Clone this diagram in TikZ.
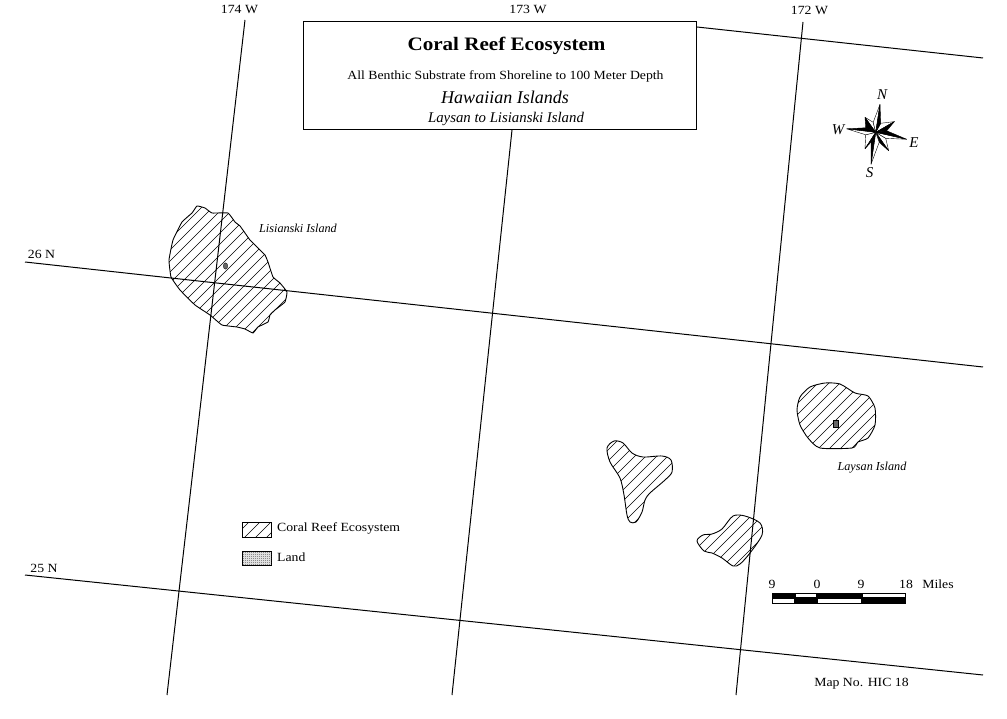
\documentclass[tikz,border=0pt]{standalone}
\usepackage{fontspec}
\setmainfont{Liberation Serif}
\newfontfamily\widef[FakeStretch=1.1]{Liberation Serif}
\newfontfamily\widet[FakeStretch=1.11]{Liberation Serif}
\tikzset{
  grat/.style={line width=1pt,black},
  lab/.style={inner sep=0pt,font=\widef\fontsize{12.5}{13}\selectfont},
  ilab/.style={inner sep=0pt,font=\fontsize{12.2}{13}\selectfont\itshape},
  clab/.style={inner sep=0pt,font=\fontsize{15}{16}\selectfont\itshape},
  coast/.style={line width=0.9pt,black},
  hatch/.style={line width=0.6pt,black},
  bk/.style={fill=black,draw=black,line width=0.4pt,line join=round},
  wh/.style={fill=white,draw=black,line width=0.4pt,line join=round},
}
\begin{document}
\begin{tikzpicture}[x=1pt,y=-1pt]
\useasboundingbox[fill=white] (0,0) rectangle (1007,719);
% graticule
\coordinate (w174a) at (245,20); \coordinate (w174b) at (167,695);
\coordinate (w173a) at (512,130); \coordinate (w173b) at (452,695);
\coordinate (w172a) at (803,22); \coordinate (w172b) at (736,695);
\coordinate (n26a) at (25,262); \coordinate (n26b) at (983,367);
\coordinate (n25a) at (25,575); \coordinate (n25b) at (983,675);
\coordinate (ntopa) at (697,27); \coordinate (ntopb) at (983,58);
\draw[grat] (w174a)--(w174b);
\draw[grat] (w173a)--(w173b);
\draw[grat] (w172a)--(w172b);
\draw[grat] (n26a)--(n26b);
\draw[grat] (n25a)--(n25b);
\draw[grat] (ntopa)--(ntopb);
% islands
\def\hatchlines{\foreach \k in {-600,-589,...,1000} {\draw[hatch] (\k,800)--(\k+800,0);}}
% Lisianski
\def\islA{(197,206) (205,208) (212,213) (228,213) (235,222) (240,226) (245,233) (250,240) (260,250) (265,255) (268,262) (273,277) (280,283) (287,292) (285,302) (275,310) (270,315) (268,322) (258,327) (253,333) (245,329) (237,327) (222,325) (210,315) (195,305) (180,290) (171,277) (169,260) (173,240) (182,222) (192,213)}
\begin{scope}
\clip plot[smooth cycle,tension=0.2] coordinates {\islA};
\hatchlines
\end{scope}
\draw[coast] plot[smooth cycle,tension=0.2] coordinates {\islA};
\fill[black!60,draw=black,line width=0.3pt] (225.5,266) ellipse (2.2 and 3.2);
% Laysan
\def\islB{(797,410) (800,397) (810,387) (825,383) (840,384) (855,393) (868,396) (875,408) (875,425) (868,438) (858,442) (852,448) (820,448) (808,438) (800,425)}
\begin{scope}
\clip plot[smooth cycle,tension=0.4] coordinates {\islB};
\hatchlines
\end{scope}
\draw[coast] plot[smooth cycle,tension=0.4] coordinates {\islB};
\filldraw[fill=black!60,draw=black,line width=0.3pt] (833,420) rectangle (838.5,427);
% middle islands
\def\islC{(607,448) (614,441) (623,443) (632,453) (643,457) (662,456) (671,460) (672,472) (665,480) (650,493) (645,500) (642,512) (636,522) (630,522) (627,515) (624,495) (620,478) (610,462)}
\begin{scope}
\clip plot[smooth cycle,tension=0.5] coordinates {\islC};
\hatchlines
\end{scope}
\draw[coast] plot[smooth cycle,tension=0.5] coordinates {\islC};
\def\islD{(697,541) (703,535) (712,534) (722,529) (733,516) (745,516) (760,523) (762,535) (750,553) (740,564) (733,566) (722,558) (712,553) (704,551)}
\begin{scope}
\clip plot[smooth cycle,tension=0.5] coordinates {\islD};
\hatchlines
\end{scope}
\draw[coast] plot[smooth cycle,tension=0.5] coordinates {\islD};
% title box
\node[draw=black,line width=1pt,fill=white,minimum width=393pt,minimum height=108pt,inner sep=0pt] (tbox) at (500,76) {};
\node[inner sep=0pt,font=\widet\fontsize{19}{20}\selectfont\bfseries] (t1) at (506.5,46) {Coral Reef Ecosystem};
\node[lab] (t2) at (505.5,76) {All Benthic Substrate from Shoreline to 100 Meter Depth};
\node[inner sep=0pt,font=\fontsize{18}{20}\selectfont\itshape] (t3) at (505,97) {Hawaiian Islands};
\node[inner sep=0pt,font=\fontsize{14.8}{16}\selectfont\itshape] (t4) at (506,119) {Laysan to Lisianski Island};
% graticule labels
\node[lab] (l174) at (239.5,9) {174 W};
\node[lab] (l173) at (528,9) {173 W};
\node[lab] (l172) at (809.5,10) {172 W};
\node[lab] (l26) at (41.5,254) {26 N};
\node[lab] (l25) at (44,568) {25 N};
% place labels
\node[ilab] (lis) at (298,228) {Lisianski Island};
\node[ilab] (lay) at (872,468) {Laysan Island};
% legend
\draw[line width=0.8pt] (242,522) rectangle (271,537);
\begin{scope}
\clip (242,522) rectangle (271,537);
\foreach \k in {220,231,...,275} {\draw[hatch] (\k,540)--(\k+30,510);}
\end{scope}
\draw[line width=0.8pt,fill=black!12] (242,551) rectangle (271,565);
\begin{scope}
\clip (242,551) rectangle (271,565);
\foreach \i in {0,...,14} {\foreach \j in {0,...,7} {\fill[black!45] (243+2*\i,552+2*\j) rectangle +(0.8,0.8);}}
\end{scope}
\node[lab,anchor=west] (lg1) at (277,528) {Coral Reef Ecosystem};
\node[lab,anchor=west] (lg2) at (277,557) {Land};
% scale bar
\fill[black] (772,593) rectangle (906,604);
\fill[white] (796,594) rectangle (816,597);
\fill[white] (863,594) rectangle (905,597);
\fill[white] (773,599) rectangle (794,603);
\fill[white] (818,599) rectangle (861,603);
\node[lab] (s1) at (772,584) {9};
\node[lab] (s2) at (817,584) {0};
\node[lab] (s3) at (861,584) {9};
\node[lab] (s4) at (906,584) {18};
\node[lab] (s5) at (938,584) {Miles};
\node[lab] (mapno) at (861.5,684) {Map No. HIC 18};
% compass
\begin{scope}[shift={(875.7,132.3)}]
\coordinate (o) at (0,0);
% tips
\coordinate (cN) at (4.3,-28); \coordinate (cE) at (31,7); \coordinate (cS) at (-4.7,32); \coordinate (cW) at (-29,-3.5);
\coordinate (cNE) at (18.7,-10.7); \coordinate (cSE) at (13,18.5); \coordinate (cSW) at (-10.7,16.5); \coordinate (cNW) at (-10.7,-15);
% inner vertices, between neighbouring tips
\coordinate (i1) at (5,-9); \coordinate (i2) at (11,-1.5); \coordinate (i3) at (10,6); \coordinate (i4) at (3.5,10);
\coordinate (i5) at (-4.5,9.5); \coordinate (i6) at (-10,2.5); \coordinate (i7) at (-10,-4.5); \coordinate (i8) at (-2.5,-10);
% secondary points first
\foreach \t/\a/\b in {cNE/i1/i2,cSE/i3/i4,cSW/i6/i5,cNW/i8/i7} {
  \draw[wh] (o)--(\t)--(\a)--cycle;
  \draw[bk] (o)--(\t)--(\b)--cycle;
}
\foreach \t/\a/\b in {cN/i8/i1,cE/i3/i2,cS/i4/i5,cW/i6/i7} {
  \draw[wh] (o)--(\t)--(\a)--cycle;
  \draw[bk] (o)--(\t)--(\b)--cycle;
}
\end{scope}
\node[clab] (cn) at (882,95) {N};
\node[clab] (ce) at (914,143) {E};
\node[clab] (cs) at (869.5,173) {S};
\node[clab] (cw) at (838,129.5) {W};
\end{tikzpicture}
\end{document}
